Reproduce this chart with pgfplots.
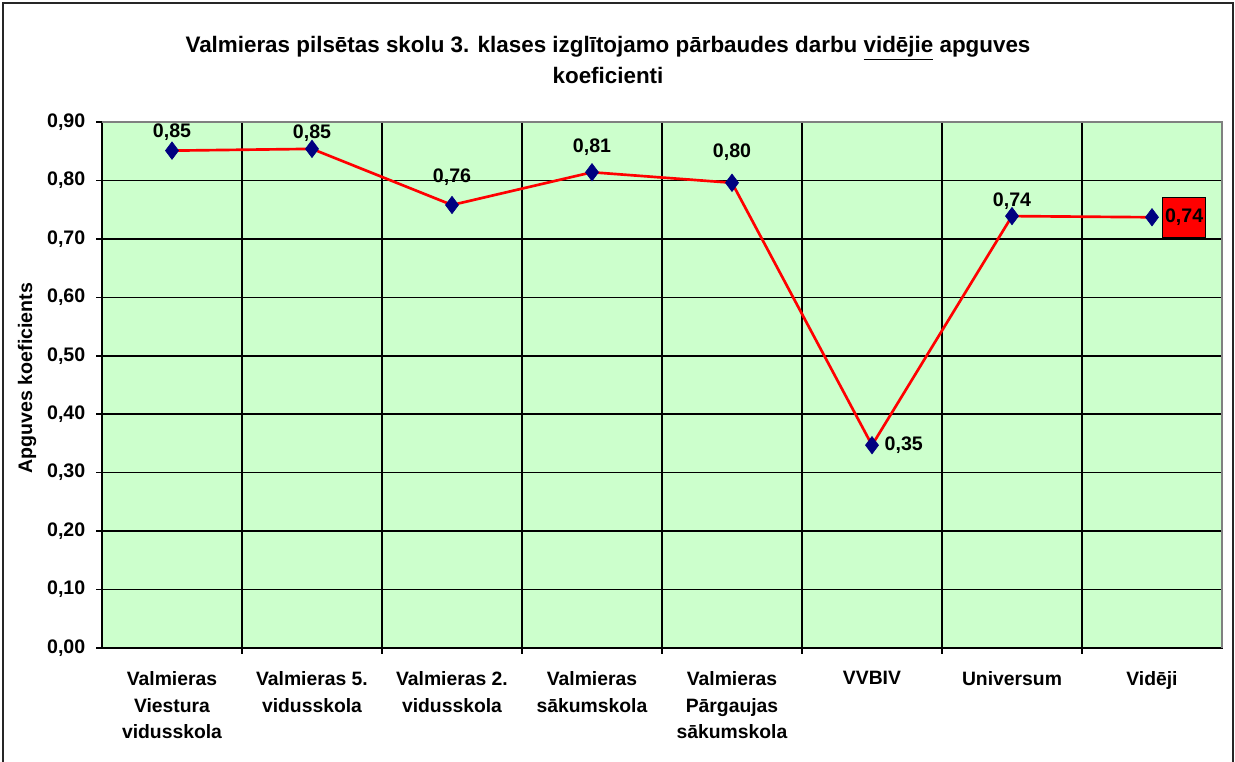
\documentclass[border=0pt]{standalone}
\usepackage{pgfplots}
\usepackage{pgfplotstable}
\pgfplotsset{compat=1.18}
\usepackage{fontspec}
\setmainfont{Liberation Sans}
\definecolor{bggreen}{RGB}{204,255,204}
\definecolor{navy}{RGB}{0,0,128}
\pgfplotstableread{
x y lab dy
0 0.851 0,85 13.5
1 0.854 0,85 12
2 0.758 0,76 21
3 0.814 0,81 19
4 0.796 0,80 23
6 0.739 0,74 11.5
}\abovelabels
\begin{document}
\begin{tikzpicture}[x=0.75pt,y=0.75pt]
\useasboundingbox (0,0) rectangle (1235,762);
\begin{scope}
\clip (0,0) rectangle (1235,762);
\draw[line width=1.5pt,black!85] (3,-10) rectangle (1233,759);
\end{scope}
\node[font=\bfseries\fontsize{16.8}{19}\selectfont,align=center] at (608,702) {Valmieras pilsētas skolu 3. klases izglītojamo pārbaudes darbu \underline{vidējie} apguves\\[4pt]koeficienti};
\node[font=\bfseries\fontsize{14.7}{17}\selectfont,rotate=90] at (27,384) {Apguves koeficients};
\begin{axis}[
  at={(76.5pt,85.5pt)}, anchor=south west,
  scale only axis, width=840pt, height=394.5pt,
  xmin=-0.5, xmax=7.5, ymin=0, ymax=0.9,
  axis background/.style={fill=bggreen},
  axis line style={black, line width=1.1pt},
  xtick={0,...,7},
  xticklabels={{Valmieras\\Viestura\\vidusskola},{Valmieras 5.\\vidusskola},{Valmieras 2.\\vidusskola},{Valmieras\\sākumskola},{Valmieras\\Pārgaujas\\sākumskola},{VVBIV},{Universum},{Vidēji}},
  x tick label style={align=center, font=\bfseries\fontsize{14.5}{20}\selectfont, yshift=-9.5pt},
  major x tick style={draw=none},
  minor xtick={0.5,1.5,...,6.5},
  xminorgrids=true,
  minor x grid style={black, line width=1.1pt},
  minor x tick style={black, line width=1.1pt},
  extra x ticks={-0.5,7.5}, extra x tick labels={},
  extra x tick style={tick style={black,line width=1.1pt}},
  minor tick length=4.5pt,
  ytick={0,0.1,...,0.9},
  ymajorgrids=true,
  major y grid style={black, line width=1.1pt},
  y tick style={black, line width=1.1pt},
  major tick length=4.5pt,
  y tick label style={font=\bfseries\fontsize{14.7}{17}\selectfont, xshift=-4.5pt},
  yticklabel style={/pgf/number format/.cd, fixed, fixed zerofill, precision=2, use comma, assume math mode=true},
  xtick pos=bottom, ytick pos=left,
  tick align=outside,
  clip=false,
]
\addplot[red, line width=2pt, mark=diamond*, mark size=6.5pt, mark options={navy, fill=navy, line width=0.5pt}] coordinates {
(0,0.851) (1,0.854) (2,0.758) (3,0.814) (4,0.796) (5,0.347) (6,0.739) (7,0.737)};
\addplot[draw=none, mark=none, nodes near coords, point meta=explicit symbolic,
  visualization depends on={\thisrow{dy} \as \dy},
  nodes near coords style={font=\bfseries\fontsize{14.7}{17}\selectfont, anchor=center, yshift=\dy pt}]
  table[x=x, y=y, meta=lab] {\abovelabels};
\addplot[draw=none, mark=none, nodes near coords, point meta=explicit symbolic,
  nodes near coords style={font=\bfseries\fontsize{14.7}{17}\selectfont, anchor=west, xshift=6pt}] coordinates {
(5,0.347)[0,35]};
\addplot[draw=none, mark=none, nodes near coords, point meta=explicit symbolic,
  nodes near coords style={font=\bfseries\fontsize{14.7}{17}\selectfont, anchor=west, xshift=7.5pt, fill=red, draw=black, line width=0.6pt, inner xsep=2pt, minimum height=30pt}] coordinates {
(7,0.737)[0,74]};
\draw[gray, line width=1.1pt] (rel axis cs:0,1) -- (rel axis cs:1,1) -- (rel axis cs:1,0);
\end{axis}
\end{tikzpicture}
\end{document}
